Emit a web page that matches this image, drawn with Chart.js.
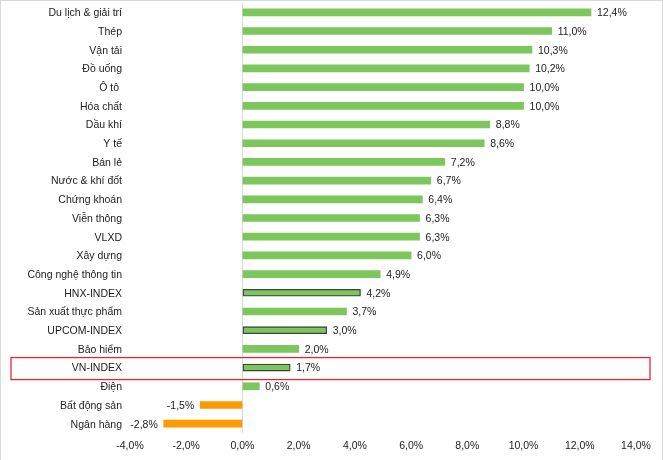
<!DOCTYPE html>
<html>
<head>
<meta charset="utf-8">
<script src="https://cdn.jsdelivr.net/npm/chart.js@4.4.1/dist/chart.umd.min.js"></script>
<style>
  html, body { margin: 0; padding: 0; background: #fff; }
  #wrap { position: relative; width: 663px; height: 460px; box-sizing: border-box;
          border: 1px solid #d9d9d9; border-bottom: none; }
</style>
</head>
<body>
<div id="wrap"><canvas id="c"></canvas></div>
<script>
// ── Data ────────────────────────────────────────────────
const categories = ['Du lịch & giải trí', 'Thép', 'Vận tải', 'Đồ uống', 'Ô tô ', 'Hóa chất', 'Dầu khí', 'Y tế',
  'Bán lẻ', 'Nước & khí đốt', 'Chứng khoán', 'Viễn thông', 'VLXD', 'Xây dựng', 'Công nghệ thông tin',
  'HNX-INDEX', 'Sản xuất thực phẩm', 'UPCOM-INDEX', 'Bảo hiểm', 'VN-INDEX', 'Điện', 'Bất động sản', 'Ngân hàng'];
const values = [12.4, 11.0, 10.3, 10.2, 10.0, 10.0, 8.8, 8.6, 7.2, 6.7, 6.4, 6.3, 6.3, 6.0, 4.9,
  4.2, 3.7, 3.0, 2.0, 1.7, 0.6, -1.5, -2.8];
const indexRows = ['HNX-INDEX', 'UPCOM-INDEX', 'VN-INDEX'];
const boxedRow = 'VN-INDEX';

const GREEN = '#7cc65c', ORANGE = '#ff9a00', FONT = "'Liberation Sans', Arial, sans-serif";
const fmt = v => v.toFixed(1).replace('.', ',') + '%';

// ── Value labels next to bar ends ───────────────────────
const valueLabels = {
  id: 'valueLabels',
  afterDatasetsDraw(chart) {
    const ctx = chart.ctx, meta = chart.getDatasetMeta(0);
    ctx.save();
    ctx.font = '10.5px ' + FONT; ctx.fillStyle = '#222'; ctx.textBaseline = 'middle';
    meta.data.forEach((bar, i) => {
      const v = values[i];
      ctx.textAlign = v >= 0 ? 'left' : 'right';
      ctx.fillText(fmt(v), bar.x + (v >= 0 ? 6 : -6), bar.y + 1);
    });
    ctx.restore();
  }
};

// ── Red box round the VN-INDEX row ──────────────────────
const rowBox = {
  id: 'rowBox',
  afterDraw(chart) {
    const y = chart.scales.y.getPixelForValue(categories.indexOf(boxedRow));
    const ctx = chart.ctx;
    ctx.save();
    ctx.strokeStyle = '#e3262f'; ctx.lineWidth = 1.3;
    ctx.strokeRect(10, y - 10, chart.width - 22, 22);
    ctx.restore();
  }
};

new Chart(document.getElementById('c'), {
  type: 'bar',
  data: {
    labels: categories,
    datasets: [{
      data: values,
      backgroundColor: values.map(v => v < 0 ? ORANGE : GREEN),
      borderColor: categories.map(c => indexRows.includes(c) ? '#404040' : 'rgba(0,0,0,0)'),
      borderWidth: categories.map(c => indexRows.includes(c) ? 1.3 : 0),
      borderSkipped: false,
      barThickness: 7
    }]
  },
  plugins: [valueLabels, rowBox],
  options: {
    indexAxis: 'y',
    responsive: true, maintainAspectRatio: false, animation: false,
    layout: { padding: { top: 2, right: 26, bottom: 0, left: 0 } },
    plugins: { legend: { display: false }, tooltip: { enabled: false } },
    scales: {
      x: {
        min: -4, max: 14,
        ticks: { stepSize: 2, padding: 7, color: '#222', font: { family: FONT, size: 10.5 }, callback: v => fmt(v) },
        grid: { drawTicks: false, color: c => c.tick && c.tick.value === 0 ? '#d9d9d9' : 'rgba(0,0,0,0)' },
        border: { display: false },
        afterFit: s => { s.height = 27; }
      },
      y: {
        ticks: { padding: 8, labelOffset: 1, color: '#222', font: { family: FONT, size: 10.5 }, autoSkip: false },
        grid: { display: false, drawTicks: false },
        border: { display: false },
        afterFit: s => { s.width = 129; s.paddingTop = 0; s.paddingBottom = 0; }
      }
    }
  }
});
</script>
</body>
</html>
